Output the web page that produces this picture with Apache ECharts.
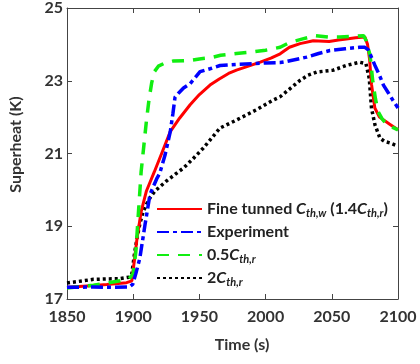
<!DOCTYPE html>
<html>
<head>
<meta charset="utf-8">
<script src="https://cdn.jsdelivr.net/npm/echarts@6/dist/echarts.min.js"></script>
<style>html,body{margin:0;padding:0;background:#fff;}#c{width:420px;height:364px;}</style>
</head>
<body>
<div id="c"></div>
<script>
// ---- data ----
const fineTime = [1850,1865,1880,1895,1899,1901,1903,1906,1910,1916,1922,1928,1935,1943,1950,1958,1965,1972,1978,1987,1996,2004,2011,2018,2026,2036,2048,2055,2061,2068,2075,2077,2078.5,2080,2082.5,2086,2090,2094,2100];
const fineVal  = [17.32,17.36,17.40,17.45,17.50,18.10,18.70,19.40,19.97,20.50,21.05,21.60,21.97,22.34,22.62,22.88,23.05,23.20,23.29,23.40,23.51,23.62,23.74,23.92,24.02,24.10,24.08,24.12,24.15,24.18,24.20,24.00,23.60,22.90,22.25,22.00,21.90,21.80,21.65];

const expTime = [1850,1870,1885,1897,1899.6,1902,1905,1909,1912.7,1917.7,1920,1924,1928,1930,1931.6,1934,1938,1943,1950.5,1958,1965.6,1978,1990.7,2000,2011,2016,2031,2040,2048.6,2060,2071,2075,2077.6,2079,2082.6,2086,2089,2093,2096.4,2100];
const expVal  = [17.32,17.33,17.32,17.33,17.40,17.70,18.12,19.06,19.88,20.30,20.45,20.95,21.60,22.10,22.55,22.65,22.80,22.92,23.25,23.33,23.42,23.45,23.47,23.49,23.50,23.53,23.65,23.75,23.83,23.88,23.92,23.92,23.85,23.80,23.42,23.15,22.88,22.65,22.45,22.25];

const halfTime = [1850,1870,1890,1897,1900,1902,1904,1906,1908,1910,1912,1914,1916,1919,1923,1930,1943,1950,1958,1966,1978,1990,2000,2011,2018,2028,2038,2048,2056,2066,2074,2076,2078.9,2081,2083,2085,2088,2091.5,2096,2100];
const halfVal  = [17.30,17.38,17.50,17.56,17.70,18.30,19.40,20.50,21.20,21.90,22.50,22.95,23.25,23.40,23.47,23.54,23.56,23.60,23.63,23.70,23.75,23.79,23.84,23.92,24.05,24.15,24.24,24.20,24.20,24.22,24.24,24.10,23.70,22.97,22.50,22.15,21.95,21.80,21.72,21.65];

const dblTime = [1850,1870,1890,1897,1899,1901,1903,1905,1907.5,1910,1913,1916.5,1925,1935,1938,1945,1953,1958,1965.6,1978,1985,1993,2000,2005.8,2011,2017,2026,2032,2038.6,2051,2061,2071,2075.8,2078.3,2080,2082.6,2086.4,2090,2094,2100];
const dblVal  = [17.44,17.54,17.56,17.60,17.70,18.25,18.70,19.06,19.40,19.60,19.80,19.97,20.24,20.52,20.60,20.85,21.15,21.37,21.70,21.92,22.05,22.20,22.35,22.47,22.56,22.74,23.01,23.15,23.24,23.29,23.42,23.51,23.47,23.06,22.24,21.79,21.42,21.33,21.29,21.20];

const xTicks = [1850, 2100, 50];
const yTicks = [17, 25, 2];
const seriesNames = ['fine', 'exp', 'half', 'dbl'];
const legendLabels = {
  fine: 'Fine tunned {i|C}{s|th,w} (1.4{i|C}{s|th,r})',
  exp: 'Experiment',
  half: '0.5{i|C}{s|th,r}',
  dbl: '2{i|C}{s|th,r}'
};

function zip(t, v) { return t.map((x, i) => [x, v[i]]); }

const FONT = 'Lato';
const axisColor = '#444';
const txtColor = '#333';

const chart = echarts.init(document.getElementById('c'), null, {renderer: 'canvas'});

const baseX = {
  type: 'value', min: xTicks[0], max: xTicks[1], interval: xTicks[2],
  axisLine: {show: true, onZero: false, lineStyle: {color: axisColor, width: 1}},
  axisTick: {show: true, inside: true, length: 5, lineStyle: {color: axisColor}},
  splitLine: {show: false}
};
const baseY = {
  type: 'value', min: yTicks[0], max: yTicks[1], interval: yTicks[2],
  axisLine: {show: true, onZero: false, lineStyle: {color: axisColor, width: 1}},
  axisTick: {show: true, inside: true, length: 5, lineStyle: {color: axisColor}},
  splitLine: {show: false}
};

chart.setOption({
  animation: false,
  backgroundColor: '#fff',
  grid: {left: 67, top: 5, right: 22, bottom: 65},
  xAxis: [
    Object.assign({}, baseX, {
      position: 'bottom',
      axisLabel: {margin: 10, fontSize: 16, fontWeight: 'bold', fontFamily: FONT, color: txtColor, formatter: v => String(v)},
      name: 'Time (s)', nameLocation: 'middle', nameGap: 38,
      nameTextStyle: {fontSize: 16, fontWeight: 'bold', fontFamily: FONT, color: txtColor, padding: [0, 0, 0, 19]}
    }),
    Object.assign({}, baseX, {position: 'top', axisLabel: {show: false}})
  ],
  yAxis: [
    Object.assign({}, baseY, {
      position: 'left',
      axisLabel: {margin: 4, fontSize: 16, fontWeight: 'bold', fontFamily: FONT, color: txtColor, formatter: v => String(v)},
      name: 'Superheat (K)', nameLocation: 'middle', nameGap: 43,
      nameTextStyle: {fontSize: 16, fontWeight: 'bold', fontFamily: FONT, color: txtColor, padding: [0, 0, 0, 18]}
    }),
    Object.assign({}, baseY, {position: 'right', axisLabel: {show: false}})
  ],
  legend: {
    data: seriesNames,
    orient: 'vertical',
    left: 151, top: 194,
    itemWidth: 45, itemHeight: 14, itemGap: 3,
    itemStyle: {opacity: 0},
    formatter: n => legendLabels[n],
    textStyle: {
      fontSize: 16, fontWeight: 'bold', fontFamily: FONT, color: '#222', lineHeight: 20,
      rich: {
        i: {fontSize: 16, fontWeight: 'bold', fontStyle: 'italic', fontFamily: FONT, color: '#222', lineHeight: 20},
        s: {fontSize: 11, fontWeight: 'bold', fontStyle: 'italic', fontFamily: FONT, color: '#222', lineHeight: 20, verticalAlign: 'bottom'}
      }
    }
  },
  series: [
    {name: 'dbl', type: 'line', data: zip(dblTime, dblVal), showSymbol: false, symbol: 'none',
     lineStyle: {color: '#000', width: 3.5, type: [3, 3], cap: 'butt'}, itemStyle: {color: '#000'}},
    {name: 'fine', type: 'line', data: zip(fineTime, fineVal), showSymbol: false, symbol: 'none',
     lineStyle: {color: '#ff0000', width: 3}, itemStyle: {color: '#ff0000'}},
    {name: 'half', type: 'line', data: zip(halfTime, halfVal), showSymbol: false, symbol: 'none',
     lineStyle: {color: '#11ee11', width: 3.5, type: [12, 9], cap: 'butt'}, itemStyle: {color: '#11ee11'}},
    {name: 'exp', type: 'line', data: zip(expTime, expVal), showSymbol: false, symbol: 'none',
     lineStyle: {color: '#0000ff', width: 3.5, type: [12, 4, 4, 4], cap: 'butt'}, itemStyle: {color: '#0000ff'}}
  ]
});
</script>
</body>
</html>
